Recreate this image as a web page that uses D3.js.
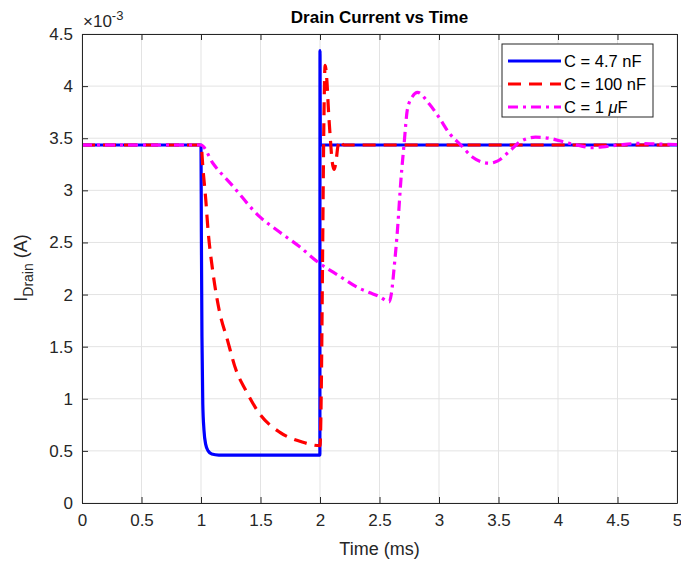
<!DOCTYPE html>
<html>
<head>
<meta charset="utf-8">
<script src="https://cdn.jsdelivr.net/npm/d3@7"></script>
<style>
  html, body { margin: 0; padding: 0; background: #fff; }
  svg { display: block; font-family: "Liberation Sans", Arial, Helvetica, sans-serif; }
</style>
</head>
<body>
<svg id="chart" width="681" height="563"></svg>
<script>
// ---- data (current in units of 1e-3 A, time in ms) ----
const xTicks = [0, 0.5, 1, 1.5, 2, 2.5, 3, 3.5, 4, 4.5, 5];
const yTicks = [0, 0.5, 1, 1.5, 2, 2.5, 3, 3.5, 4, 4.5];
const seriesNames = ["C = 4.7 nF", "C = 100 nF", "C = 1 μF"];

const tBlue = [0, 1.0, 1.003, 1.008, 1.015, 1.025, 1.04, 1.06, 1.09, 1.15, 1.999, 2.0, 2.003, 5];
const iBlue = [3.435, 3.435, 2.6, 1.6, 0.95, 0.7, 0.56, 0.5, 0.47, 0.46, 0.46, 4.34, 3.435, 3.435];

const tRed = [0, 1.0, 1.017, 1.04, 1.059, 1.097, 1.153, 1.223, 1.293, 1.377, 1.49, 1.66, 1.85, 2.0,
              2.012, 2.022, 2.032, 2.043, 2.058, 2.072, 2.086, 2.1, 2.118, 2.135, 2.15, 2.17, 2.185, 2.2, 5];
const iRed = [3.435, 3.435, 3.2, 2.91, 2.62, 2.24, 1.85, 1.56, 1.28, 1.08, 0.86, 0.68, 0.585, 0.55,
              1.2, 2.4, 3.6, 4.2, 4.05, 3.75, 3.51, 3.3, 3.2, 3.28, 3.42, 3.48, 3.45, 3.435, 3.435];

const tMag = [0, 1.0, 1.1, 1.268, 1.49, 1.66, 1.827, 1.995, 2.16, 2.33, 2.414, 2.5, 2.582, 2.6, 2.624,
              2.651, 2.68, 2.707, 2.735, 2.777, 2.82, 2.917, 3.0, 3.085, 3.183, 3.28, 3.42, 3.49, 3.588,
              3.686, 3.811, 3.923, 4.063, 4.174, 4.286, 4.398, 4.51, 4.678, 4.817, 5];
const iMag = [3.435, 3.435, 3.26, 3.04, 2.75, 2.60, 2.46, 2.30, 2.18, 2.06, 2.02, 1.98, 1.93, 2.01, 2.27,
              2.62, 3.10, 3.45, 3.78, 3.90, 3.94, 3.83, 3.70, 3.55, 3.435, 3.32, 3.26, 3.28, 3.37,
              3.47, 3.51, 3.50, 3.46, 3.43, 3.41, 3.42, 3.435, 3.45, 3.445, 3.44];

// ---- layout ----
const svg = d3.select("#chart");
const L = 82, R = 677, T = 34, B = 503;
const x = d3.scaleLinear().domain([0, 5]).range([L, R]);
const y = d3.scaleLinear().domain([0, 4.5]).range([B, T]);
const axisColor = "#262626";

svg.append("defs").append("clipPath").attr("id", "clip")
  .append("rect").attr("x", L).attr("y", T).attr("width", R - L).attr("height", B - T);

svg.append("rect").attr("x", L).attr("y", T).attr("width", R - L).attr("height", B - T).attr("fill", "#fff");

// grid
const grid = svg.append("g");
grid.selectAll(".gx").data(xTicks).join("line")
  .attr("x1", d => x(d)).attr("x2", d => x(d)).attr("y1", T).attr("y2", B)
  .attr("stroke", "#e3e3e3").attr("stroke-width", 1);
grid.selectAll(".gy").data(yTicks).join("line")
  .attr("y1", d => y(d)).attr("y2", d => y(d)).attr("x1", L).attr("x2", R)
  .attr("stroke", "#e3e3e3").attr("stroke-width", 1);

// series
const series = [
  { t: tBlue, v: iBlue, color: "#0000ff", dash: null },
  { t: tRed, v: iRed, color: "#ff0000", dash: "13,8" },
  { t: tMag, v: iMag, color: "#ff00ff", dash: "10,5,3,5" }
];
const line = d3.line().x(d => x(d[0])).y(d => y(d[1])).curve(d3.curveMonotoneX);
const lines = svg.append("g").attr("clip-path", "url(#clip)");
series.forEach(s => {
  lines.append("path")
    .attr("d", line(s.t.map((t, i) => [t, s.v[i]])))
    .attr("fill", "none").attr("stroke", s.color).attr("stroke-width", 3.2)
    .attr("stroke-dasharray", s.dash).attr("stroke-linejoin", "round");
});

// axes
const fmt = d => String(d);
const xAxisB = d3.axisBottom(x).tickValues(xTicks).tickFormat(fmt).tickSizeInner(-6).tickSizeOuter(0).tickPadding(11);
const xAxisT = d3.axisTop(x).tickValues(xTicks).tickFormat("").tickSizeInner(-6).tickSizeOuter(0);
const yAxisL = d3.axisLeft(y).tickValues(yTicks).tickFormat(fmt).tickSizeInner(-6).tickSizeOuter(0).tickPadding(9);
const yAxisR = d3.axisRight(y).tickValues(yTicks).tickFormat("").tickSizeInner(-6).tickSizeOuter(0);

function style(g) {
  g.selectAll("path").attr("stroke", axisColor).attr("stroke-width", 1);
  g.selectAll("line").attr("stroke", axisColor).attr("stroke-width", 1);
  g.selectAll("text").attr("fill", axisColor).style("font-size", "17px")
   .style("font-family", "'Liberation Sans', Arial, sans-serif");
}
svg.append("g").attr("transform", `translate(0,${B})`).call(xAxisB).call(style);
svg.append("g").attr("transform", `translate(0,${T})`).call(xAxisT).call(style);
svg.append("g").attr("transform", `translate(${L},0)`).call(yAxisL).call(style);
svg.append("g").attr("transform", `translate(${R},0)`).call(yAxisR).call(style);

// exponent label
const ex = svg.append("text").attr("x", 83).attr("y", 27).attr("fill", axisColor).style("font-size", "17px");
ex.append("tspan").text("×10");
ex.append("tspan").attr("dy", -7).style("font-size", "13px").text("-3");

// title
svg.append("text").attr("x", (L + R) / 2).attr("y", 23).attr("text-anchor", "middle")
  .attr("fill", "#000").style("font-size", "17px").style("font-weight", "bold").text("Drain Current vs Time");

// x label
svg.append("text").attr("x", (L + R) / 2).attr("y", 555).attr("text-anchor", "middle")
  .attr("fill", axisColor).style("font-size", "18px").text("Time (ms)");

// y label (measured and centred on the plot's vertical middle)
const ylG = svg.append("g").attr("transform", `translate(27,268) rotate(-90)`);
const yl = ylG.append("text").attr("x", 0).attr("y", 0).attr("fill", axisColor).style("font-size", "18px");
yl.append("tspan").text("I");
yl.append("tspan").attr("dy", 6).style("font-size", "14px").text("Drain");
yl.append("tspan").attr("dy", -6).text(" (A)");
const ylLen = yl.node().getBBox().width;
yl.attr("x", -ylLen / 2);

// legend
const lg = svg.append("g");
lg.append("rect").attr("x", 502).attr("y", 44).attr("width", 151).attr("height", 73)
  .attr("fill", "#fff").attr("stroke", axisColor).attr("stroke-width", 1);
series.forEach((s, i) => {
  const yy = 61 + i * 23;
  lg.append("line").attr("x1", 508).attr("x2", 561).attr("y1", yy).attr("y2", yy)
    .attr("stroke", s.color).attr("stroke-width", 3.2).attr("stroke-dasharray", s.dash);
  const tx = lg.append("text").attr("x", 564).attr("y", yy + 6).attr("fill", "#000").style("font-size", "16.5px");
  if (i === 2) {
    tx.append("tspan").text("C = 1 ");
    tx.append("tspan").style("font-style", "italic").text("μ");
    tx.append("tspan").text("F");
  } else {
    tx.text(seriesNames[i]);
  }
});
</script>
</body>
</html>
